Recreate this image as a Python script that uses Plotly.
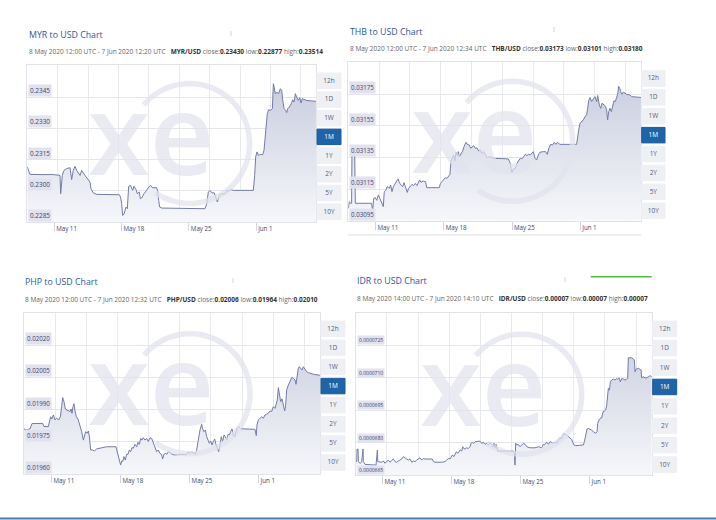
import math
import pandas as pd
import plotly.graph_objects as go

# ---------------- data ----------------
tick_dates = ["2020-05-11", "2020-05-18", "2020-05-25", "2020-06-01"]
tick_labels = ["May 11", "May 18", "May 25", "Jun 1"]
button_labels = ["12h", "1D", "1W", "1M", "1Y", "2Y", "5Y", "10Y"]

# days after the start of each chart window
myr_days = [0.00,0.28,1.32,2.70,3.40,3.47,3.64,3.81,4.09,4.44,
            4.61,4.78,4.96,5.13,5.48,5.65,6.00,6.34,6.52,6.62,
            6.86,7.21,8.25,9.57,9.70,9.81,9.91,10.05,10.26,10.40,
            10.54,10.74,10.95,11.09,11.30,11.44,11.65,11.75,11.92,12.13,
            12.41,12.62,12.82,13.03,13.45,13.55,13.66,13.76,13.97,15.87,
            17.95,18.47,18.65,18.82,18.99,19.20,19.44,19.62,19.76,19.96,
            20.21,20.55,20.73,20.93,21.14,21.42,23.50,23.64,23.74,23.88,
            24.02,24.26,24.47,24.61,24.71,24.82,24.95,25.09,25.30,25.48,
            25.58,25.68,25.79,25.96,26.13,26.31,26.45,26.55,26.69,26.86,
            26.97,27.07,27.24,27.45,27.59,27.73,27.87,28.00,28.18,28.32,
            28.46,28.59,28.77,28.98,30.01]
myr_vals = [0.23115,0.23079,0.23078,0.23078,0.23074,0.22986,0.23074,0.23098,0.23107,0.23111,
            0.23054,0.23098,0.23118,0.23098,0.23074,0.23098,0.23074,0.23050,0.23042,0.23010,
            0.22990,0.22983,0.22983,0.22981,0.22970,0.22938,0.22882,0.22887,0.22922,0.22914,
            0.23022,0.23026,0.23002,0.23022,0.23006,0.22986,0.22994,0.22962,0.22967,0.22986,
            0.23002,0.23018,0.23026,0.23015,0.23015,0.22999,0.22954,0.22922,0.22917,0.22917,
            0.22917,0.22914,0.22938,0.22994,0.23002,0.22990,0.22990,0.22970,0.22946,0.22978,
            0.22986,0.22986,0.23002,0.22999,0.23006,0.23002,0.23002,0.23074,0.23163,0.23187,
            0.23171,0.23175,0.23174,0.23195,0.23243,0.23283,0.23371,0.23390,0.23387,0.23395,
            0.23515,0.23496,0.23467,0.23474,0.23467,0.23491,0.23483,0.23438,0.23395,0.23387,
            0.23376,0.23395,0.23403,0.23419,0.23438,0.23427,0.23467,0.23451,0.23435,0.23448,
            0.23422,0.23443,0.23438,0.23435,0.23430]

thb_days = [0.00,0.10,0.21,0.34,0.38,0.65,0.72,2.39,2.50,2.60,
            2.77,2.91,3.08,3.25,3.42,3.59,3.69,3.86,4.00,4.21,
            4.34,4.48,4.62,4.79,4.96,5.13,5.23,5.40,5.57,5.71,
            5.92,6.05,6.19,6.36,6.53,6.70,6.87,7.04,7.18,7.32,
            7.45,7.69,7.93,8.04,9.34,9.44,9.61,9.78,9.95,10.12,
            10.29,10.43,10.53,10.67,10.81,10.94,11.05,11.18,11.28,11.39,
            11.52,11.73,11.87,12.07,12.21,12.41,12.55,12.69,12.86,13.03,
            13.20,13.37,13.54,13.71,13.88,14.05,14.23,14.53,14.88,16.41,
            16.58,16.69,16.79,16.93,17.13,17.30,17.47,17.64,17.82,17.99,
            18.16,18.33,18.50,18.67,18.84,18.98,19.15,19.32,19.49,19.66,
            20.00,20.24,20.41,20.59,20.76,20.96,21.13,21.30,21.44,21.71,
            23.42,23.53,23.63,23.77,23.94,24.11,24.28,24.45,24.55,24.65,
            24.79,24.96,25.13,25.30,25.48,25.58,25.75,25.89,26.02,26.16,
            26.33,26.50,26.60,26.71,26.84,26.98,27.12,27.25,27.39,27.53,
            27.63,27.73,27.84,27.94,28.07,28.21,28.38,28.55,28.89,29.07,
            30.02]
thb_vals = [0.031028,0.031070,0.031060,0.031060,0.031412,0.031417,0.031060,0.031060,0.031009,0.031091,
            0.031096,0.031079,0.031113,0.031091,0.031060,0.031039,0.031134,0.031144,0.031165,0.031155,
            0.031176,0.031134,0.031165,0.031186,0.031201,0.031214,0.031191,0.031176,0.031165,0.031191,
            0.031155,0.031129,0.031155,0.031165,0.031180,0.031172,0.031186,0.031172,0.031197,0.031208,
            0.031193,0.031201,0.031197,0.031159,0.031159,0.031184,0.031197,0.031214,0.031222,0.031218,
            0.031235,0.031243,0.031328,0.031345,0.031366,0.031328,0.031383,0.031362,0.031387,0.031355,
            0.031370,0.031391,0.031419,0.031446,0.031433,0.031429,0.031408,0.031419,0.031425,0.031408,
            0.031412,0.031391,0.031398,0.031376,0.031387,0.031370,0.031349,0.031355,0.031345,0.031341,
            0.031319,0.031281,0.031256,0.031277,0.031281,0.031313,0.031328,0.031345,0.031341,0.031360,
            0.031370,0.031362,0.031370,0.031366,0.031376,0.031387,0.031345,0.031334,0.031366,0.031383,
            0.031387,0.031387,0.031370,0.031412,0.031433,0.031429,0.031446,0.031433,0.031446,0.031433,
            0.031433,0.031493,0.031524,0.031566,0.031577,0.031588,0.031609,0.031619,0.031661,0.031708,
            0.031729,0.031704,0.031721,0.031735,0.031704,0.031742,0.031683,0.031661,0.031693,0.031683,
            0.031678,0.031651,0.031588,0.031640,0.031661,0.031640,0.031687,0.031708,0.031704,0.031735,
            0.031750,0.031800,0.031788,0.031767,0.031750,0.031763,0.031756,0.031750,0.031746,0.031735,
            0.031730]

php_days = [0.00,0.14,0.61,0.81,1.89,2.03,2.47,2.57,2.70,2.81,
            2.98,3.14,3.31,3.52,3.69,3.82,3.92,4.06,4.19,4.36,
            4.53,4.67,4.77,4.87,4.97,5.07,5.17,5.31,5.48,5.68,
            5.85,6.02,6.12,6.25,6.39,6.53,6.63,6.76,6.96,7.13,
            7.37,7.88,8.38,9.33,9.43,9.57,9.67,9.80,9.91,10.01,
            10.14,10.28,10.41,10.55,10.68,10.82,10.95,11.09,11.26,11.43,
            11.56,11.70,11.83,11.97,12.10,12.27,12.44,12.61,12.78,12.95,
            13.12,13.22,13.35,13.46,13.62,13.79,13.96,14.06,14.20,14.37,
            14.50,14.64,14.81,15.01,15.21,16.16,16.50,16.67,16.84,17.01,
            17.17,17.45,17.58,17.72,17.85,18.02,18.12,18.26,18.39,18.53,
            18.70,18.80,18.93,19.07,19.20,19.34,19.47,19.61,19.74,19.88,
            20.01,20.15,20.29,20.42,20.56,20.69,20.83,20.96,21.10,21.23,
            21.37,21.50,21.64,21.77,21.98,23.43,23.50,23.56,23.63,23.77,
            23.94,24.11,24.28,24.44,24.61,24.78,24.95,25.12,25.29,25.46,
            25.56,25.69,25.80,25.90,26.03,26.17,26.30,26.44,26.54,26.64,
            26.81,26.98,27.15,27.32,27.49,27.59,27.72,27.82,27.93,28.06,
            28.20,28.33,28.50,28.67,28.87,29.08,29.35,30.02]
php_vals = [0.019813,0.019805,0.019810,0.019835,0.019836,0.019821,0.019821,0.019847,0.019867,0.019856,
            0.019875,0.019852,0.019860,0.019852,0.019867,0.019914,0.019956,0.019937,0.019903,0.019898,
            0.019894,0.019891,0.019903,0.019883,0.019914,0.019928,0.019894,0.019867,0.019856,0.019828,
            0.019797,0.019758,0.019782,0.019797,0.019790,0.019800,0.019774,0.019712,0.019712,0.019707,
            0.019717,0.019723,0.019727,0.019727,0.019712,0.019689,0.019665,0.019642,0.019661,0.019658,
            0.019681,0.019665,0.019692,0.019692,0.019712,0.019704,0.019723,0.019720,0.019738,0.019727,
            0.019748,0.019738,0.019766,0.019758,0.019769,0.019758,0.019766,0.019751,0.019769,0.019766,
            0.019748,0.019735,0.019720,0.019704,0.019712,0.019696,0.019692,0.019670,0.019692,0.019696,
            0.019692,0.019704,0.019701,0.019692,0.019689,0.019692,0.019692,0.019704,0.019696,0.019704,
            0.019696,0.019696,0.019735,0.019774,0.019805,0.019832,0.019810,0.019797,0.019805,0.019774,
            0.019758,0.019743,0.019754,0.019735,0.019751,0.019763,0.019738,0.019720,0.019704,0.019735,
            0.019774,0.019751,0.019782,0.019774,0.019758,0.019785,0.019782,0.019797,0.019810,0.019782,
            0.019774,0.019797,0.019816,0.019821,0.019811,0.019808,0.019790,0.019779,0.019828,0.019852,
            0.019860,0.019867,0.019860,0.019875,0.019878,0.019883,0.019894,0.019891,0.019914,0.019906,
            0.019922,0.019945,0.020003,0.019971,0.019937,0.019950,0.019929,0.019894,0.019922,0.019992,
            0.020015,0.020031,0.020049,0.020046,0.020038,0.020018,0.020069,0.020093,0.020100,0.020093,
            0.020085,0.020100,0.020085,0.020077,0.020072,0.020068,0.020065,0.020060]

idr_days = [0.00,0.10,0.14,0.24,0.27,0.47,0.61,0.68,0.74,0.78,
            0.95,2.06,2.13,2.20,2.23,2.47,2.64,2.80,2.97,3.14,
            3.31,3.48,3.65,3.82,3.99,4.16,4.33,4.49,4.66,4.83,
            5.00,5.17,5.34,5.51,5.68,5.85,6.02,6.18,6.35,6.52,
            6.69,6.86,7.03,7.77,7.87,8.04,8.72,9.06,9.23,9.39,
            9.56,9.66,9.80,9.94,10.07,10.21,10.34,10.48,10.61,10.75,
            10.85,10.95,11.08,11.25,11.42,11.59,11.69,11.83,11.96,12.10,
            12.44,12.60,12.77,12.94,13.11,13.28,13.45,13.62,13.79,13.89,
            14.02,14.13,14.23,14.33,14.40,15.98,16.09,16.15,16.22,16.32,
            16.49,16.66,16.83,17.00,17.17,17.34,17.67,18.18,18.52,18.86,
            19.03,19.13,19.26,19.40,19.53,19.70,19.87,20.04,20.21,20.38,
            20.55,20.71,20.82,20.95,21.09,21.22,21.39,21.56,21.73,21.90,
            22.00,22.13,22.30,23.08,23.18,23.25,23.35,23.45,23.59,23.76,
            23.93,24.09,24.19,24.33,24.47,24.53,24.67,24.77,24.94,25.07,
            25.21,25.34,25.45,25.55,25.61,25.72,25.82,25.95,26.12,26.29,
            26.46,26.56,26.70,26.83,26.97,27.14,27.30,27.47,27.57,27.64,
            27.98,28.15,28.25,28.32,28.42,28.66,28.82,28.93,28.99,29.16,
            29.33,29.50,29.67,29.84,30.01]
idr_vals = [6.712e-05,6.712e-05,6.770e-05,6.770e-05,6.712e-05,6.704e-05,6.712e-05,6.770e-05,6.770e-05,6.712e-05,
            6.699e-05,6.696e-05,6.766e-05,6.766e-05,6.712e-05,6.712e-05,6.709e-05,6.715e-05,6.704e-05,6.712e-05,
            6.719e-05,6.709e-05,6.715e-05,6.724e-05,6.712e-05,6.709e-05,6.715e-05,6.719e-05,6.724e-05,6.735e-05,
            6.730e-05,6.724e-05,6.719e-05,6.724e-05,6.709e-05,6.715e-05,6.712e-05,6.719e-05,6.727e-05,6.730e-05,
            6.719e-05,6.727e-05,6.724e-05,6.724e-05,6.712e-05,6.709e-05,6.709e-05,6.712e-05,6.719e-05,6.727e-05,
            6.724e-05,6.735e-05,6.743e-05,6.735e-05,6.750e-05,6.758e-05,6.750e-05,6.761e-05,6.766e-05,6.761e-05,
            6.781e-05,6.773e-05,6.770e-05,6.776e-05,6.773e-05,6.781e-05,6.797e-05,6.801e-05,6.797e-05,6.804e-05,
            6.804e-05,6.807e-05,6.797e-05,6.801e-05,6.792e-05,6.797e-05,6.789e-05,6.801e-05,6.792e-05,6.781e-05,
            6.797e-05,6.776e-05,6.792e-05,6.773e-05,6.761e-05,6.761e-05,6.750e-05,6.696e-05,6.797e-05,6.789e-05,
            6.792e-05,6.781e-05,6.789e-05,6.797e-05,6.792e-05,6.781e-05,6.776e-05,6.776e-05,6.781e-05,6.776e-05,
            6.792e-05,6.789e-05,6.797e-05,6.801e-05,6.792e-05,6.804e-05,6.801e-05,6.797e-05,6.804e-05,6.797e-05,
            6.812e-05,6.823e-05,6.817e-05,6.827e-05,6.843e-05,6.838e-05,6.835e-05,6.827e-05,6.820e-05,6.815e-05,
            6.801e-05,6.789e-05,6.786e-05,6.789e-05,6.804e-05,6.820e-05,6.851e-05,6.863e-05,6.866e-05,6.863e-05,
            6.858e-05,6.851e-05,6.847e-05,6.843e-05,6.851e-05,6.889e-05,6.905e-05,6.912e-05,6.915e-05,6.943e-05,
            6.946e-05,6.951e-05,6.974e-05,7.036e-05,7.051e-05,7.043e-05,7.082e-05,7.090e-05,7.094e-05,7.090e-05,
            7.097e-05,7.094e-05,7.100e-05,7.082e-05,7.097e-05,7.094e-05,7.090e-05,7.094e-05,7.097e-05,7.193e-05,
            7.193e-05,7.187e-05,7.182e-05,7.128e-05,7.140e-05,7.144e-05,7.140e-05,7.136e-05,7.100e-05,7.105e-05,
            7.100e-05,7.100e-05,7.105e-05,7.110e-05,7.105e-05]

myr_yticks = [0.2285, 0.2300, 0.2315, 0.2330, 0.2345]
myr_ylabels = ["0.2285", "0.2300", "0.2315", "0.2330", "0.2345"]
thb_yticks = [0.03095, 0.03115, 0.03135, 0.03155, 0.03175]
thb_ylabels = ["0.03095", "0.03115", "0.03135", "0.03155", "0.03175"]
php_yticks = [0.01960, 0.01975, 0.01990, 0.02005, 0.02020]
php_ylabels = ["0.01960", "0.01975", "0.01990", "0.02005", "0.02020"]
idr_yticks = [0.0000665, 0.0000680, 0.0000695, 0.0000710, 0.0000725]
idr_ylabels = ["0.0000665", "0.0000680", "0.0000695", "0.0000710", "0.0000725"]

titles = ["MYR to USD Chart", "THB to USD Chart", "PHP to USD Chart", "IDR to USD Chart"]
periods = ["8 May 2020 12:00 UTC - 7 Jun 2020 12:20 UTC",
           "8 May 2020 12:00 UTC - 7 Jun 2020 12:34 UTC",
           "8 May 2020 12:00 UTC - 7 Jun 2020 12:32 UTC",
           "8 May 2020 14:00 UTC - 7 Jun 2020 14:10 UTC"]
pairs = ["MYR/USD", "THB/USD", "PHP/USD", "IDR/USD"]
closes = ["0.23430", "0.03173", "0.02006", "0.00007"]
lows = ["0.22877", "0.03101", "0.01964", "0.00007"]
highs = ["0.23514", "0.03180", "0.02010", "0.00007"]

# ---------------- layout config ----------------
W, H = 716, 520
panels = [
    dict(days=myr_days, vals=myr_vals, yt=myr_yticks, yl=myr_ylabels, yr=(0.2285, 0.23605),
         xr=("2020-05-08 05:00", "2020-06-07 05:20"), box=(27.3, 65, 316, 222),
         tpos=(27.3, 35), spos=(27.3, 52), btn=(317, 341, 73, 18.7), lfs=6.4),
    dict(days=thb_days, vals=thb_vals, yt=thb_yticks, yl=thb_ylabels, yr=(0.03095, 0.031956),
         xr=("2020-05-08 05:00", "2020-06-07 05:34"), box=(348.3, 61.7, 641, 220.7),
         tpos=(348.3, 31.7), spos=(348.3, 48.7), btn=(641.7, 665, 70.7, 18.9), lfs=6.2),
    dict(days=php_days, vals=php_vals, yt=php_yticks, yl=php_ylabels, yr=(0.0196, 0.020349),
         xr=("2020-05-08 05:00", "2020-06-07 05:32"), box=(24, 313.3, 320, 474),
         tpos=(23.3, 281.7), spos=(23.3, 299.3), btn=(321, 345, 321, 19.1), lfs=6.2),
    dict(days=idr_days, vals=idr_vals, yt=idr_yticks, yl=idr_ylabels, yr=(0.0000665, 0.00007399),
         xr=("2020-05-08 07:00", "2020-06-07 07:10"), box=(355.7, 313.3, 651.7, 475),
         tpos=(355, 281), spos=(355, 298.3), btn=(652.7, 676.7, 321, 19.4), lfs=5.0),
]

FONT = "Open Sans"
WM = "rgba(224,226,237,0.72)"
def fx(px):
    return px / W
def fy(py):
    return 1 - py / H

fig = go.Figure()
shapes, annotations = [], []
layout_axes = {}

for i, p in enumerate(panels):
    n = i + 1
    sfx = "" if n == 1 else str(n)
    xa, ya = "x" + sfx, "y" + sfx
    t0, t1 = pd.Timestamp(p["xr"][0]), pd.Timestamp(p["xr"][1])
    times = [t0 + pd.Timedelta(days=d) for d in p["days"]]
    x0, y0, x1, y1 = p["box"]

    fig.add_trace(go.Scatter(
        x=times, y=p["vals"], xaxis=xa, yaxis=ya, mode="lines",
        line=dict(color="#737ba7", width=1), fill="tozeroy",
        fillgradient=dict(type="vertical", colorscale=[[0, "#f6f7fa"], [1, "#c3c7db"]],
                          start=p["yr"][0], stop=p["yr"][1]),
        hoverinfo="skip", showlegend=False))

    span = t1 - t0
    minor_vals = [str(t0 + span * k / 9.5) for k in range(1, 10)]
    layout_axes["xaxis" + sfx] = dict(
        domain=[fx(x0), fx(x1)], range=[str(t0), str(t1)], anchor=ya, type="date",
        tickmode="array", tickvals=tick_dates, ticktext=tick_labels,
        ticks="outside", ticklen=8, tickcolor="#d3d5e0", tickwidth=1,
        ticklabelposition="outside right", ticklabelstandoff=1, ticklabelshift=1,
        tickfont=dict(family=FONT, size=6.2, color="#3d4470"),
        showgrid=False, zeroline=False,
        minor=dict(tickvals=minor_vals, showgrid=True, gridcolor="#e8e9ef", gridwidth=1, ticks=""),
        showline=True, linecolor="#e1e2ea", linewidth=1, mirror=True, fixedrange=True)
    layout_axes["yaxis" + sfx] = dict(
        domain=[fy(y1), fy(y0)], range=list(p["yr"]), anchor=xa,
        tickmode="array", tickvals=p["yt"], showticklabels=False, ticks="",
        showgrid=True, gridcolor="#e5e6ed", gridwidth=1, zeroline=False,
        showline=True, linecolor="#e1e2ea", linewidth=1, mirror=True, fixedrange=True)

    # y labels (boxed, inside the plot, above their grid lines)
    for v, lab in zip(p["yt"], p["yl"]):
        annotations.append(dict(
            text=lab, xref=xa + " domain", x=0.004, yref=ya, y=v,
            xanchor="left", yanchor="bottom", showarrow=False,
            bgcolor="#e1e2ed", borderpad=1,
            font=dict(family=FONT, size=p["lfs"], color="#3d4470")))

    # title + subtitle
    annotations.append(dict(
        text=titles[i], xref="paper", yref="paper", x=fx(p["tpos"][0]), y=fy(p["tpos"][1]),
        xanchor="left", yanchor="middle", showarrow=False,
        font=dict(family=FONT, size=8.8, color="#2f55a4")))
    sub = (periods[i] + "\u00a0\u00a0\u00a0<b><span style='color:#333'>" + pairs[i] + "</span></b> close:"
           + "<b><span style='color:#333'>" + closes[i] + "</span></b> low:"
           + "<b><span style='color:#333'>" + lows[i] + "</span></b> high:"
           + "<b><span style='color:#333'>" + highs[i] + "</span></b>")
    annotations.append(dict(
        text=sub, xref="paper", yref="paper", x=fx(p["spos"][0]), y=fy(p["spos"][1]),
        xanchor="left", yanchor="middle", showarrow=False,
        font=dict(family=FONT, size=6.5, color="#666")))

    # range buttons
    bx0, bx1, by0, step = p["btn"]
    for k, lab in enumerate(button_labels):
        top = by0 + k * step
        sel = lab == "1M"
        shapes.append(dict(
            type="rect", xref="paper", yref="paper",
            x0=fx(bx0), x1=fx(bx1), y0=fy(top + 15.5), y1=fy(top),
            fillcolor="#1f64a9" if sel else "#eff0f4", line=dict(width=1, color="#1a5a9a" if sel else "#eff0f4"),
            layer="above",
            label=dict(text=lab, font=dict(family=FONT, size=6.5, color="#ffffff" if sel else "#555b78"),
                       textposition="middle center")))

    # xe watermark
    cxp, cyp = (x0 + x1) / 2, (y0 + y1) / 2
    annotations.append(dict(
        text="xe", xref="paper", yref="paper", x=fx(cxp - 21), y=fy(cyp - 12),
        xanchor="center", yanchor="middle", showarrow=False,
        font=dict(family=FONT, size=112, weight=600, color=WM)))
    ccx, ccy, r = cxp + 18, cyp, 60
    pts = []
    for a in range(140, -126, -5):
        th = math.radians(a)
        pts.append((fx(ccx + r * math.cos(th)), fy(ccy - r * math.sin(th))))
    path = "M " + " L ".join(f"{a:.5f},{b:.5f}" for a, b in pts)
    shapes.append(dict(type="path", xref="paper", yref="paper", path=path,
                       line=dict(color=WM, width=5.5), layer="above"))

# decorative bits seen in the screenshot
for (mx, my) in [(231, 31), (554, 27), (233, 278), (565, 277)]:
    shapes.append(dict(type="line", xref="paper", yref="paper", x0=fx(mx), x1=fx(mx),
                       y0=fy(my), y1=fy(my + 5), line=dict(color="#d6d6d6", width=1)))
shapes.append(dict(type="line", xref="paper", yref="paper", x0=fx(590.7), x1=fx(651.7),
                   y0=fy(276.7), y1=fy(276.7), line=dict(color="#58b847", width=1.5)))
shapes.append(dict(type="line", xref="paper", yref="paper", x0=fx(348.3), x1=fx(641),
                   y0=fy(235), y1=fy(235), line=dict(color="#dcdde4", width=1)))
shapes.append(dict(type="line", xref="paper", yref="paper", x0=0, x1=1,
                   y0=fy(518.5), y1=fy(518.5), line=dict(color="#4a7bad", width=2)))

fig.update_layout(
    width=W, height=H, margin=dict(l=0, r=0, t=0, b=0),
    paper_bgcolor="white", plot_bgcolor="white",
    shapes=shapes, annotations=annotations, showlegend=False,
    **layout_axes)

fig.write_html("out.html")
